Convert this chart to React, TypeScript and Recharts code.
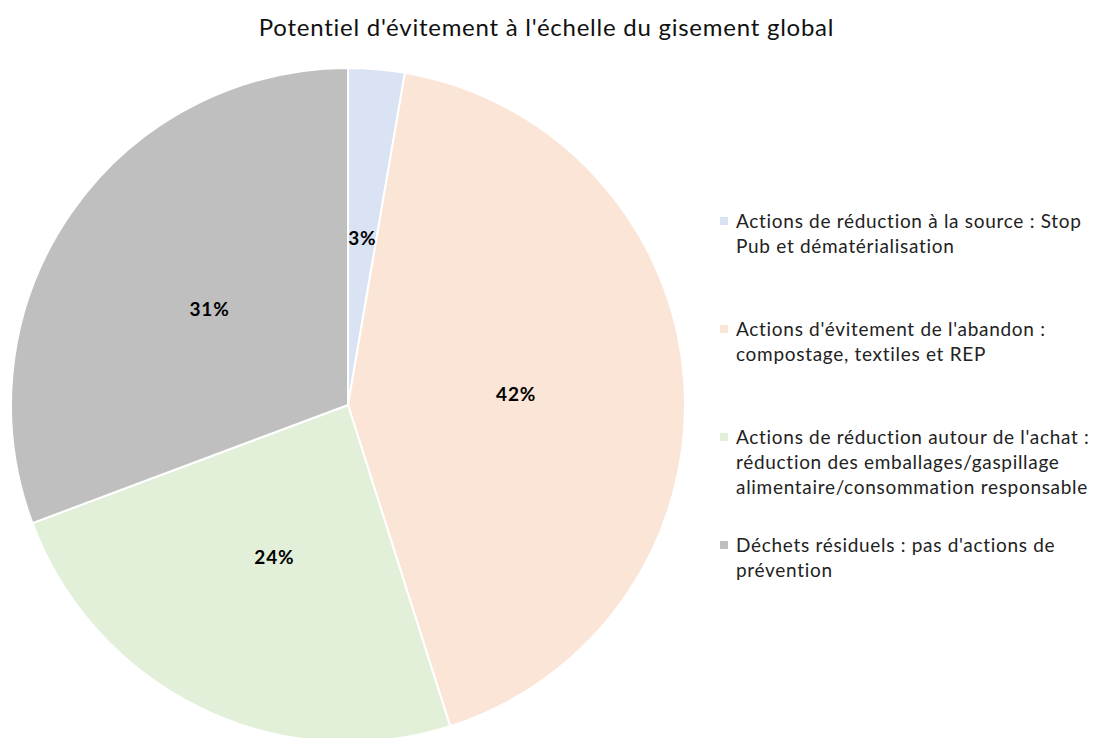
import { PieChart, Pie, Cell, Legend } from 'recharts'

const categories = [
  "Actions de réduction à la source : Stop Pub et dématérialisation",
  "Actions d'évitement de l'abandon : compostage, textiles et REP",
  "Actions de réduction autour de l'achat : réduction des emballages/gaspillage alimentaire/consommation responsable",
  "Déchets résiduels : pas d'actions de prévention",
]
const legendLines = [
  ['Actions de réduction à la source : Stop', 'Pub et dématérialisation'],
  ["Actions d'évitement de l'abandon :", 'compostage, textiles et REP'],
  ["Actions de réduction autour de l'achat :", 'réduction des emballages/gaspillage', 'alimentaire/consommation responsable'],
  ["Déchets résiduels : pas d'actions de", 'prévention'],
]
const shares = [2.7, 42.4, 24.2, 30.7]
const colors = ['#DAE3F3', '#FBE5D6', '#E2F0D9', '#BFBFBF']

const data = categories.map((name, i) => ({ name, value: shares[i] }))

const FONT = 'Lato, "Open Sans", sans-serif'
const RAD = Math.PI / 180

function renderLabel(props: any) {
  const { cx, cy, midAngle, outerRadius, percent } = props
  const r = outerRadius * 0.5
  const x = cx + r * Math.cos(-midAngle * RAD)
  const y = cy + r * Math.sin(-midAngle * RAD)
  return (
    <text
      x={x}
      y={y}
      textAnchor="middle"
      dominantBaseline="central"
      fill="#000"
      fontFamily={FONT}
      fontWeight="bold"
      fontSize={19}
      letterSpacing={0.8}
    >
      {`${Math.round(percent * 100)}%`}
    </text>
  )
}

function renderLegend() {
  return (
    <div style={{ fontFamily: FONT, fontSize: 19, letterSpacing: 0.7, color: '#222' }}>
      {legendLines.map((lines, i) => (
        <div key={i} style={{ display: 'flex', marginBottom: i === 2 ? 33 : 58 }}>
          <div
            style={{
              width: 8,
              height: 8,
              background: colors[i],
              marginTop: 9,
              marginRight: 8,
              flex: 'none',
            }}
          />
          <div style={{ lineHeight: '25px' }}>
            {lines.map((l, j) => (
              <div key={j} style={{ whiteSpace: 'nowrap' }}>{l}</div>
            ))}
          </div>
        </div>
      ))}
    </div>
  )
}

export default function App() {
  return (
    <div style={{ position: 'absolute', left: 0, top: 0, width: 1093, height: 738, background: '#fff', overflow: 'hidden' }}>
      <div
        style={{
          position: 'absolute',
          top: 12,
          left: 0,
          width: 1093,
          textAlign: 'center',
          fontFamily: FONT,
          fontSize: 24,
          letterSpacing: 0.75,
          color: '#111',
        }}
      >
        Potentiel d'évitement à l'échelle du gisement global
      </div>
      <PieChart width={1093} height={760} margin={{ top: 0, right: 0, bottom: 0, left: 0 }}>
        <Pie
          data={data}
          dataKey="value"
          nameKey="name"
          cx={348}
          cy={405}
          outerRadius={337}
          startAngle={90}
          endAngle={-270}
          stroke="#fff"
          strokeWidth={2}
          label={renderLabel}
          labelLine={false}
          isAnimationActive={false}
        >
          {data.map((d, i) => (
            <Cell key={d.name} fill={colors[i]} />
          ))}
        </Pie>
        <Legend
          content={renderLegend}
          wrapperStyle={{ position: 'absolute', left: 720, top: 208, width: 372 }}
        />
      </PieChart>
    </div>
  )
}
